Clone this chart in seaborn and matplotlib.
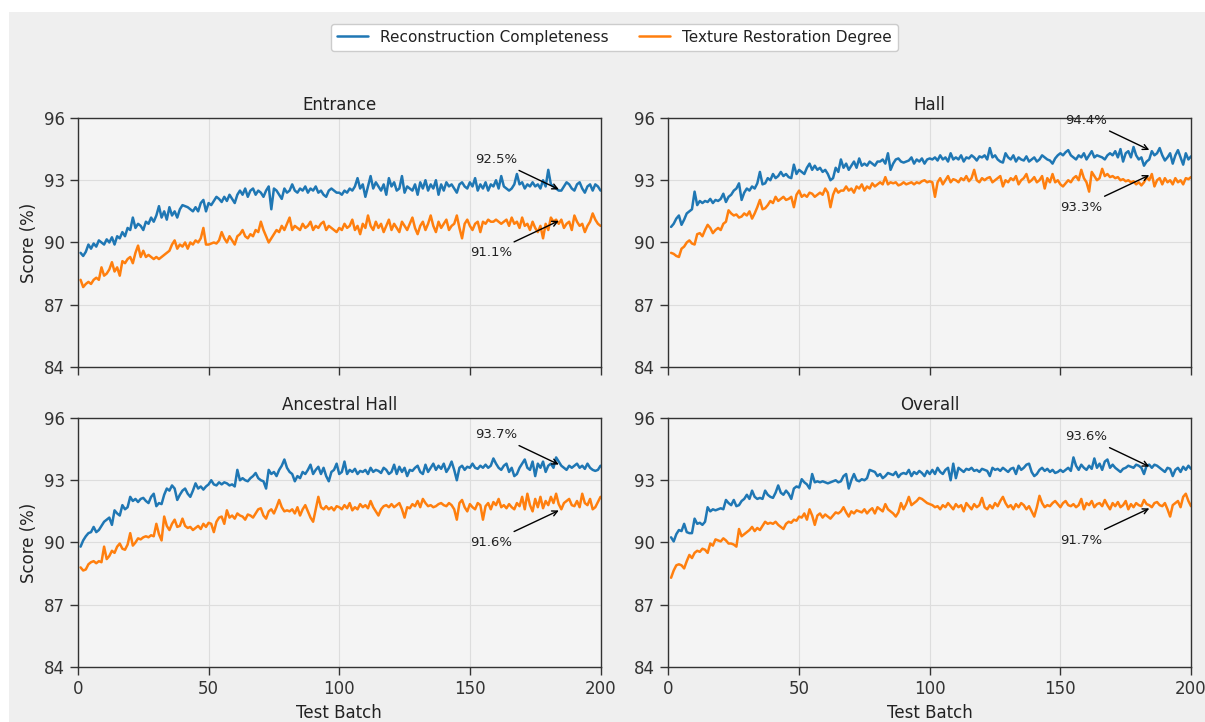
import pandas as pd
import seaborn as sns
import matplotlib.pyplot as plt
from matplotlib.patches import Rectangle
from matplotlib.lines import Line2D

# test batches 1..200
batches = list(range(1, 201))
zones = ['Entrance', 'Hall', 'Ancestral Hall', 'Overall']
metrics = ['Reconstruction Completeness', 'Texture Restoration Degree']
mark_batch = 185

entrance_rc = [
    89.5, 89.35, 89.55, 89.9, 89.7, 89.95, 89.8, 90.1, 90.0, 89.9,
    90.15, 90.0, 90.25, 89.9, 90.3, 90.2, 90.5, 90.3, 90.7, 90.6,
    91.2, 90.7, 90.9, 90.8, 90.6, 91.0, 90.9, 91.2, 91.0, 91.3,
    91.75, 91.2, 91.5, 91.1, 91.7, 91.3, 91.5, 91.2, 91.6, 91.8,
    91.75, 91.7, 91.6, 91.5, 91.7, 91.5, 91.9, 92.05, 91.5, 91.9,
    91.8, 92.0, 92.2, 92.1, 91.95, 92.2, 92.0, 92.3, 92.1, 91.9,
    92.3, 92.5, 92.3, 92.6, 92.2, 92.5, 92.6, 92.3, 92.5, 92.4,
    92.2, 92.5, 92.7, 91.6, 92.6, 92.5, 92.3, 92.1, 92.6, 92.4,
    92.5, 92.8, 92.5, 92.4, 92.6, 92.5, 92.7, 92.4, 92.6, 92.5,
    92.7, 92.4, 92.5, 92.3, 92.2, 92.5, 92.6, 92.5, 92.4, 92.4,
    92.3, 92.5, 92.4, 92.6, 92.5, 92.7, 93.1, 92.6, 92.8, 92.2,
    92.7, 93.2, 92.6, 92.9, 92.7, 92.5, 92.8, 92.3, 93.1, 92.7,
    92.9, 92.5, 92.6, 93.2, 92.4, 92.7, 92.6, 92.5, 92.8, 92.3,
    92.9, 92.6, 93.0, 92.5, 92.8, 92.6, 93.0, 92.3, 92.8, 92.5,
    92.9, 92.7, 92.8, 92.6, 92.4, 92.8, 92.9, 92.7, 92.6, 92.9,
    92.7, 93.1, 92.5, 92.8, 92.6, 92.9, 92.5, 92.8, 92.7, 93.0,
    92.6, 93.2, 92.7, 92.6, 92.5, 92.6, 92.8, 93.3, 92.8, 92.9,
    92.6, 92.8, 92.7, 92.9, 92.7, 92.8, 92.6, 93.0, 92.7, 93.5,
    92.8, 92.7, 92.6, 92.5, 92.5, 92.7, 92.9, 92.8, 92.6, 92.5,
    92.8, 92.9, 92.6, 92.4, 92.7, 92.8, 92.5, 92.8, 92.7, 92.5,
]
entrance_tr = [
    88.2, 87.85, 88.0, 88.1, 88.0, 88.2, 88.3, 88.2, 88.8, 88.4,
    88.5, 88.7, 89.05, 88.6, 88.8, 88.4, 89.1, 89.0, 89.2, 89.3,
    89.0, 89.5, 89.85, 89.3, 89.6, 89.3, 89.4, 89.3, 89.2, 89.3,
    89.2, 89.3, 89.4, 89.5, 89.6, 89.9, 90.1, 89.7, 89.9, 89.8,
    90.0, 89.7, 90.0, 89.9, 90.1, 90.0, 90.2, 90.7, 89.9, 89.9,
    89.95, 90.0, 89.95, 90.1, 90.5, 90.2, 90.0, 90.3, 90.1, 89.9,
    90.3, 90.4, 90.6, 90.3, 90.2, 90.4, 90.3, 90.6, 90.5, 91.0,
    90.6, 90.3, 90.0, 90.2, 90.4, 90.6, 90.5, 90.8, 90.6, 90.9,
    91.2, 90.6, 90.8, 90.7, 90.6, 90.9, 90.7, 90.8, 91.0, 90.6,
    90.8, 90.7, 90.9, 91.0, 90.6, 90.8, 90.7, 90.6, 90.5, 90.7,
    90.6, 90.9, 90.7, 90.8, 91.1, 90.6, 90.8, 90.4, 90.9, 90.7,
    91.3, 90.8, 90.6, 91.0, 90.7, 90.9, 90.5, 90.8, 91.1, 90.6,
    90.9, 90.7, 90.5, 91.0, 90.8, 90.6, 90.9, 91.2, 90.7, 90.4,
    90.8, 91.0, 90.6, 90.9, 91.3, 90.8, 90.5, 91.0, 90.7, 90.9,
    91.1, 90.6, 90.8, 90.9, 91.3, 90.7, 90.2, 90.9, 91.1, 90.8,
    90.6, 90.9, 91.0, 90.5, 91.0, 90.9, 91.1, 91.0, 91.0, 91.1,
    91.0, 90.9, 91.0, 91.1, 90.8, 91.2, 90.9, 91.0, 90.7, 91.2,
    90.8, 90.9, 90.6, 91.0, 90.7, 90.5, 90.8, 90.2, 90.9, 90.6,
    91.2, 91.0, 91.1, 90.9, 91.1, 90.7, 90.9, 91.0, 90.6, 91.3,
    91.0, 90.8, 90.9, 90.5, 90.8, 91.0, 91.4, 91.1, 90.9, 90.8,
]
hall_rc = [
    90.75, 90.9, 91.15, 91.3, 90.85, 91.1, 91.4, 91.5, 91.6, 92.45,
    91.8, 92.0, 91.9, 92.0, 91.95, 92.1, 91.9, 92.05, 92.0, 92.1,
    92.35, 91.95, 92.2, 92.3, 92.5, 92.6, 92.85, 92.05, 92.4, 92.6,
    92.5, 92.7, 92.6, 92.85, 93.4, 92.8, 92.85, 93.1, 93.0, 93.3,
    93.1, 93.2, 93.4, 93.2, 93.3, 93.15, 93.1, 93.75, 93.3, 93.5,
    93.4, 93.3, 93.6, 93.8, 93.5, 93.7, 93.5, 93.6, 93.4, 93.5,
    93.3, 93.0, 93.1, 93.6, 93.4, 94.0, 93.6, 93.8, 93.5, 93.7,
    93.9, 93.6, 94.05, 93.7, 93.8, 93.7, 93.9, 93.8, 93.7, 93.9,
    93.9, 94.0, 93.8, 94.3, 93.5, 93.8, 94.0, 94.05, 93.9, 93.85,
    93.9, 93.95, 94.1, 93.8, 94.0, 93.9, 94.05, 93.8, 94.0, 94.05,
    94.0, 94.1, 93.95, 94.2, 94.0, 94.1, 93.9, 94.3, 94.0, 94.1,
    94.0, 94.2, 93.9, 94.1, 94.05, 94.2, 94.1, 93.95, 94.15, 94.1,
    94.2, 94.0, 94.55, 94.1, 94.2, 94.0, 93.9, 93.85, 94.3, 94.1,
    94.0, 94.2, 93.9, 94.1, 94.0, 93.95, 94.15, 93.9, 94.0, 94.1,
    93.9, 94.0, 94.2, 94.1, 94.0, 93.95, 93.8, 94.05, 94.2, 94.3,
    94.2, 94.35, 94.45, 94.2, 94.1, 94.0, 94.2, 94.1, 94.3, 94.0,
    94.2, 94.4, 94.1, 94.2, 94.15, 94.1, 94.0, 94.2, 94.3, 94.2,
    94.4, 94.1, 94.5, 93.9, 94.3, 94.4, 94.1, 94.6, 94.2, 94.0,
    94.1, 93.7, 93.9, 94.0, 94.4, 94.2, 94.3, 94.55, 94.2, 93.95,
    94.1, 94.3, 93.8, 94.2, 94.45, 94.1, 93.75, 94.3, 94.0, 94.15,
]
hall_tr = [
    89.5, 89.45, 89.35, 89.3, 89.7, 89.8, 90.0, 90.1, 89.95, 89.9,
    90.4, 90.45, 90.3, 90.6, 90.85, 90.7, 90.45, 90.6, 90.7, 90.6,
    90.9, 91.0, 91.55, 91.4, 91.3, 91.35, 91.2, 91.25, 91.4, 91.3,
    91.5, 91.15, 91.4, 91.7, 92.05, 91.6, 91.65, 91.8, 92.0, 91.9,
    92.2, 92.0, 92.1, 92.2, 92.05, 92.1, 92.2, 91.7, 92.3, 92.5,
    92.2, 92.3, 92.2, 92.4, 92.35, 92.2, 92.3, 92.4, 92.3, 92.6,
    92.4, 91.7, 92.3, 92.6, 92.4, 92.5, 92.5, 92.7, 92.5, 92.6,
    92.4, 92.7, 92.6, 92.8, 92.5, 92.7, 92.6, 92.85, 92.7, 92.8,
    92.9, 92.8, 93.15, 92.8, 92.9, 92.85, 92.9, 92.75, 92.8, 92.9,
    92.8, 92.85, 92.9, 92.8, 92.9, 92.85, 92.95, 93.0, 92.9, 92.95,
    92.9, 92.2, 92.9, 93.1, 92.8, 93.0, 93.2, 92.9, 93.05, 93.0,
    92.9, 93.1, 93.0, 93.2, 92.95, 93.1, 93.5, 93.0, 92.9, 93.1,
    93.0, 93.1, 93.15, 92.9, 93.0, 93.1, 93.2, 92.7, 93.0, 92.9,
    93.1, 93.0, 93.2, 92.8, 93.0, 93.1, 93.3, 92.9, 93.0, 93.15,
    92.9, 93.0, 93.2, 92.6, 93.1, 92.9, 93.3, 92.9, 93.0, 92.8,
    92.7, 92.85, 93.0, 92.9, 93.1, 93.2, 93.0, 93.5, 93.1, 92.9,
    92.45, 93.4, 93.2, 93.0, 93.1, 93.55, 93.2, 93.3, 93.15, 93.2,
    93.1, 93.15, 93.0, 93.05, 92.95, 93.0, 92.9, 92.95, 92.8, 92.9,
    92.75, 92.9, 93.15, 93.0, 93.3, 92.7, 93.0, 93.1, 92.8, 93.1,
    92.9, 93.0, 92.8, 93.1, 92.9, 93.0, 92.8, 93.1, 93.05, 93.15,
]
ancestral_rc = [
    89.8, 90.1, 90.3, 90.45, 90.5, 90.75, 90.5, 90.6, 90.8, 91.0,
    91.1, 91.2, 90.85, 91.55, 91.4, 91.3, 91.8, 91.6, 91.7, 92.2,
    92.0, 92.1, 91.95, 92.1, 92.15, 92.0, 91.9, 92.2, 92.35, 91.75,
    91.9, 91.85, 92.3, 92.6, 92.5, 92.75, 92.6, 92.05, 92.3, 92.5,
    92.6, 92.35, 92.2, 92.5, 92.85, 92.6, 92.7, 92.55, 92.7, 92.8,
    93.0, 92.8, 92.75, 92.9, 92.8, 92.9, 92.85, 92.75, 92.8, 92.7,
    93.5, 93.0, 93.1, 93.0, 92.95, 93.1, 93.2, 93.35, 93.1, 93.0,
    92.95, 92.6, 93.5, 93.3, 93.4, 93.2, 93.5, 93.7, 94.0, 93.6,
    93.4, 93.3, 92.95, 93.2, 93.1, 93.4, 93.3, 93.5, 93.75, 93.3,
    93.5, 93.65, 93.3, 93.6, 93.2, 92.95, 93.4, 93.5, 93.8, 93.3,
    93.4, 93.9, 93.3, 93.5, 93.4, 93.55, 93.3, 93.45, 93.4, 93.5,
    93.3, 93.6, 93.4, 93.5, 93.45, 93.35, 93.6, 93.5, 93.3, 93.4,
    93.75, 93.3, 93.65, 93.4, 93.6, 93.2, 93.5, 93.45, 93.6, 93.7,
    93.4, 93.3, 93.75, 93.4, 93.6, 93.8, 93.5, 93.7, 93.55, 93.8,
    93.4, 93.6, 93.9, 93.5, 93.0, 93.6, 93.7, 93.5, 93.65, 93.6,
    93.8, 93.6, 93.55, 93.7, 93.6, 93.75, 93.6, 93.7, 94.05, 93.8,
    93.6, 93.5, 93.7, 93.8, 93.4, 93.6, 93.2, 93.3, 93.6, 93.8,
    94.0, 93.6, 93.5, 93.9, 93.2, 93.8, 93.6, 93.9, 93.4, 93.7,
    93.8, 93.6, 94.1, 93.9, 93.7, 93.6, 93.5, 93.7, 93.6, 93.7,
    93.8, 93.6, 93.7, 93.55, 93.8, 93.6, 93.5, 93.45, 93.5, 93.7,
]
ancestral_tr = [
    88.8, 88.65, 88.7, 88.95, 89.05, 89.1, 89.0, 89.1, 89.05, 89.8,
    89.2, 89.35, 89.6, 89.5, 89.8, 89.95, 89.7, 89.65, 89.9, 90.45,
    89.85, 90.0, 90.2, 90.15, 90.25, 90.3, 90.25, 90.35, 90.3, 90.9,
    90.4, 90.1, 91.25, 90.8, 90.6, 90.9, 91.1, 90.75, 90.8, 91.15,
    90.8, 90.7, 90.75, 90.6, 90.7, 90.8, 90.65, 90.9, 90.75, 90.95,
    90.9, 90.5, 91.0, 91.2, 91.25, 90.9, 91.55, 91.2, 91.3, 91.15,
    91.4, 91.3, 91.25, 91.1, 91.35, 91.3, 91.2, 91.4, 91.6, 91.65,
    91.3, 91.15, 91.5, 91.6, 91.4, 91.7, 92.05, 91.7, 91.5, 91.55,
    91.5, 91.6, 91.4, 91.7, 91.3, 91.6, 91.8, 91.5, 91.2, 91.0,
    91.6, 92.2, 91.7, 91.6, 91.75, 91.6, 91.7, 91.55, 91.75, 91.7,
    91.6, 91.8, 91.65, 91.9, 91.55, 91.7, 91.6, 91.85, 91.7, 91.8,
    91.65, 92.0, 91.7, 91.5, 91.3, 91.6, 91.75, 91.8, 91.7, 91.85,
    91.7, 91.8, 91.9, 91.6, 91.2, 91.7, 91.65, 91.85, 91.75, 92.0,
    91.7, 92.1, 91.9, 91.75, 91.8, 91.7, 91.75, 91.85, 91.9, 91.8,
    91.75, 91.9, 91.8, 91.6, 91.1, 91.9, 92.05, 91.7, 91.5, 91.85,
    91.7, 91.6, 91.9, 91.8, 91.1, 91.75, 91.9, 91.6, 91.95, 91.8,
    92.1, 91.7, 91.8, 91.65, 91.85, 91.7, 91.6, 91.9, 91.75, 92.2,
    91.6, 92.35, 91.8, 91.5, 92.1, 91.7, 92.2, 91.65, 92.0, 91.8,
    92.2, 91.9, 92.35, 91.85, 91.6, 91.9, 92.0, 92.1, 91.8, 91.75,
    92.0, 91.7, 92.35, 91.9, 91.8, 92.1, 91.6, 91.7, 91.95, 92.2,
]
overall_rc = [
    90.25, 90.05, 90.4, 90.6, 90.55, 90.9, 90.5, 90.45, 90.45, 91.15,
    90.9, 90.95, 90.85, 91.0, 91.7, 91.5, 91.6, 91.55, 91.6, 91.65,
    91.6, 92.05, 91.9, 91.8, 92.05, 91.75, 91.8, 92.0, 92.1, 92.3,
    92.1, 92.5, 92.2, 92.1, 92.15, 92.1, 92.5, 92.3, 92.2, 92.15,
    92.4, 92.75, 92.4, 92.3, 92.5, 92.35, 92.1, 92.6, 92.7, 92.65,
    93.05, 92.9, 92.8, 92.6, 93.3, 92.9, 92.95, 92.9, 92.95, 92.9,
    92.85, 92.9, 92.95, 93.0, 92.9, 92.95, 93.2, 93.3, 92.6, 93.0,
    93.3, 93.0, 92.95, 93.05, 93.0, 93.1, 93.5, 93.45, 93.4, 93.2,
    93.3, 93.1, 93.2, 93.35, 93.3, 93.25, 93.4, 93.15, 93.3, 93.35,
    93.3, 93.5, 93.2, 93.4, 93.3, 93.45, 93.35, 93.2, 93.45, 93.3,
    93.5, 93.3, 93.6, 93.4, 93.3, 93.5, 93.6, 93.0, 93.8, 93.1,
    93.6, 93.5, 93.4, 93.55, 93.5, 93.6, 93.45, 93.5, 93.4, 93.55,
    93.5, 93.45, 93.2, 93.6, 93.5, 93.55, 93.45, 93.6, 93.5, 93.4,
    93.55, 93.6, 93.3, 93.7, 93.5, 93.6, 93.75, 93.8, 93.4, 93.2,
    93.3, 93.5, 93.6, 93.45, 93.55, 93.4, 93.5, 93.35, 93.4, 93.5,
    93.4, 93.5, 93.6, 93.45, 94.1, 93.7, 93.5, 93.75, 93.6, 93.5,
    93.7, 93.55, 94.05, 93.6, 93.8, 93.5, 93.9, 94.0, 93.6, 93.75,
    93.6, 93.5, 93.4, 93.55, 93.6, 93.7, 93.65, 93.6, 93.75, 93.7,
    93.6, 93.3, 93.7, 93.75, 93.6, 93.75, 93.7, 93.6, 93.5, 93.4,
    93.6, 93.55, 93.2, 93.5, 93.6, 93.4, 93.65, 93.5, 93.7, 93.55,
]
overall_tr = [
    88.3, 88.65, 88.9, 88.95, 88.9, 88.75, 89.1, 89.4, 89.25, 89.5,
    89.6, 89.55, 89.7, 89.65, 89.5, 89.95, 89.85, 90.15, 90.1, 90.05,
    90.2, 90.1, 89.95, 89.95, 89.9, 89.8, 90.65, 90.3, 90.4, 90.5,
    90.6, 90.75, 90.55, 90.7, 90.6, 90.8, 91.0, 90.9, 90.95, 90.9,
    91.0, 90.85, 90.75, 90.65, 90.9, 91.0, 90.95, 91.1, 91.05, 91.25,
    91.2, 91.4, 91.1, 91.6, 91.3, 90.85, 91.3, 91.4, 91.2, 91.35,
    91.25, 91.15, 91.3, 91.45, 91.4, 91.5, 91.7, 91.45, 91.25, 91.5,
    91.4, 91.55, 91.5, 91.45, 91.6, 91.4, 91.55, 91.65, 91.4, 91.7,
    91.6, 91.5, 91.85, 91.6, 91.5, 91.4, 91.25, 91.45, 91.9, 91.6,
    91.85, 92.2, 91.8, 91.9, 92.0, 92.15, 92.1, 92.0, 91.9, 91.85,
    91.8, 91.7, 91.75, 91.6, 91.8, 91.7, 91.9, 91.75, 91.6, 91.85,
    91.7, 91.8, 91.5, 91.9, 91.75, 91.6, 91.85, 91.7, 91.8, 92.15,
    91.7, 91.6, 91.8, 91.65, 91.9, 91.75, 92.0, 92.2, 91.9, 91.7,
    91.8, 91.6, 91.85, 91.7, 91.9, 91.8, 91.6, 91.75, 91.5, 91.25,
    91.7, 92.25, 91.9, 91.7, 91.8, 91.75, 91.9, 92.0, 91.85, 91.7,
    91.9, 92.0, 91.8, 91.75, 91.85, 91.7, 91.8, 92.1, 91.6, 91.9,
    91.8, 92.0, 91.7, 91.85, 91.9, 91.75, 92.05, 91.8, 91.6, 91.9,
    91.75, 91.95, 91.7, 91.8, 92.0, 91.6, 91.85, 91.7, 91.9, 91.8,
    91.75, 92.05, 91.85, 91.8, 91.7, 91.9, 91.95, 91.8, 91.75, 91.9,
    91.6, 91.25, 91.8, 91.9, 92.0, 91.7, 92.2, 92.35, 92.0, 91.75,
]

series = {
    ('Entrance', metrics[0]): entrance_rc,
    ('Entrance', metrics[1]): entrance_tr,
    ('Hall', metrics[0]): hall_rc,
    ('Hall', metrics[1]): hall_tr,
    ('Ancestral Hall', metrics[0]): ancestral_rc,
    ('Ancestral Hall', metrics[1]): ancestral_tr,
    ('Overall', metrics[0]): overall_rc,
    ('Overall', metrics[1]): overall_tr,
}

rows = []
for (zone, metric), vals in series.items():
    for b, v in zip(batches, vals):
        rows.append((zone, metric, b, v))
df = pd.DataFrame(rows, columns=['zone', 'metric', 'batch', 'score'])

sns.set_theme(style='ticks', rc={
    'figure.facecolor': 'white',
    'axes.facecolor': '#f4f4f4',
    'axes.edgecolor': '#333333',
    'axes.linewidth': 1.0,
    'axes.grid': True,
    'grid.color': '#dddddd',
    'grid.linewidth': 0.8,
    'xtick.color': '#333333',
    'ytick.color': '#333333',
    'text.color': '#222222',
    'axes.labelcolor': '#222222',
})
plt.rcParams['font.family'] = ['DejaVu Sans']

palette = {metrics[0]: '#1f77b4', metrics[1]: '#ff7f0e'}

fig, axes = plt.subplots(2, 2, figsize=(12.05, 7.22), dpi=100, sharex=True)
fig.subplots_adjust(left=0.0647, right=0.9884, bottom=0.0762, top=0.8366,
                    wspace=0.13, hspace=0.205)
# grey canvas, the picture has a thin white margin at top/left
fig.patches.append(Rectangle((9 / 1205, 0), 1, 1 - 12 / 722, transform=fig.transFigure,
                             facecolor='#efefef', edgecolor='none', zorder=-10))

for ax, zone in zip(axes.flat, zones):
    sub = df[df['zone'] == zone]
    sns.lineplot(data=sub, x='batch', y='score', hue='metric', palette=palette,
                 linewidth=1.8, ax=ax, legend=False)
    ax.set_title(zone, fontsize=12)
    ax.set_xlim(0, 200)
    ax.set_ylim(84, 96)
    ax.set_xticks([0, 50, 100, 150, 200])
    ax.set_yticks([84, 87, 90, 93, 96])
    ax.tick_params(labelsize=12, length=6, width=1)
    ax.set_xlabel('')
    ax.set_ylabel('')
    for sp in ax.spines.values():
        sp.set_visible(True)

    # annotate the value at batch 185 for both metrics
    rc_val = series[(zone, metrics[0])][batches.index(mark_batch)]
    tr_val = series[(zone, metrics[1])][batches.index(mark_batch)]
    ax.annotate(f'{rc_val:.1f}%', xy=(mark_batch, rc_val), xytext=(160, rc_val + 1.5),
                ha='center', va='center', fontsize=9.5,
                arrowprops=dict(arrowstyle='->', color='black', lw=1))
    ax.annotate(f'{tr_val:.1f}%', xy=(mark_batch, tr_val), xytext=(158, tr_val - 1.6),
                ha='center', va='center', fontsize=9.5,
                arrowprops=dict(arrowstyle='->', color='black', lw=1))

axes[0, 0].set_ylabel('Score (%)', fontsize=12)
axes[1, 0].set_ylabel('Score (%)', fontsize=12)
axes[1, 0].set_xlabel('Test Batch', fontsize=12)
axes[1, 1].set_xlabel('Test Batch', fontsize=12)

handles = [Line2D([0], [0], color=palette[m], lw=1.8) for m in metrics]
leg = fig.legend(handles, metrics, loc='upper center', bbox_to_anchor=(0.51, 0.978),
                 ncol=2, fontsize=11, frameon=True, fancybox=True)
leg.get_frame().set_facecolor('white')
leg.get_frame().set_edgecolor('#cccccc')
leg.get_frame().set_alpha(1)

fig.savefig('out.png', dpi=100, facecolor=fig.get_facecolor())
